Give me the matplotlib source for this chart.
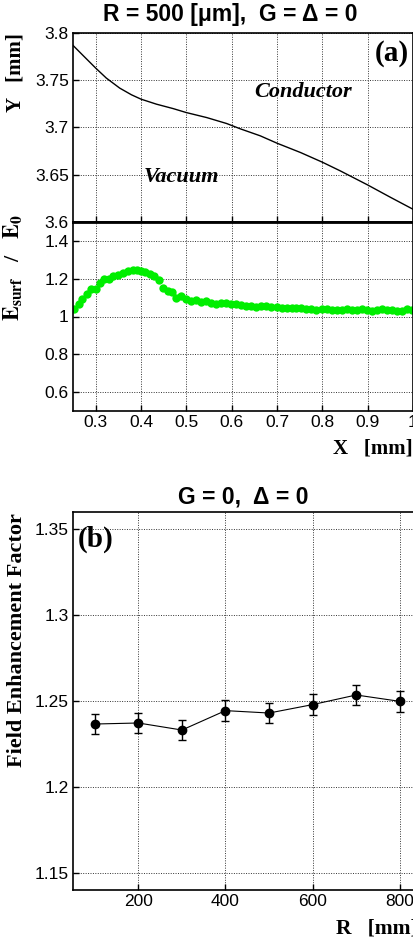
import matplotlib.pyplot as plt

plt.rcParams['font.family'] = ['Liberation Sans', 'DejaVu Sans']
plt.rcParams['mathtext.fontset'] = 'stix'

# (a) upper: boundary profile Y(X)
prof_x = [0.25, 0.272, 0.3, 0.3235, 0.353, 0.379, 0.4, 0.434, 0.471, 0.5, 0.545,
          0.589, 0.619, 0.663, 0.7, 0.752, 0.8, 0.84, 0.9, 0.95, 1.0]
prof_y = [3.7869, 3.7763, 3.7629, 3.7523, 3.7417, 3.7346, 3.730, 3.7247, 3.720,
          3.7158, 3.7105, 3.7042, 3.6986, 3.6912, 3.6834, 3.6735, 3.6633, 3.654,
          3.6392, 3.6262, 3.6135]

# (a) lower: surface field ratio
field_x = [0.253, 0.2625, 0.27, 0.281, 0.29, 0.301, 0.309, 0.318, 0.329, 0.338,
           0.349, 0.36, 0.371, 0.382, 0.392, 0.4, 0.409, 0.419, 0.428, 0.439,
           0.448, 0.459, 0.468, 0.477, 0.489, 0.5, 0.511, 0.522, 0.533, 0.544,
           0.555, 0.566, 0.577, 0.588, 0.599, 0.61, 0.621, 0.632, 0.643, 0.654,
           0.665, 0.676, 0.687, 0.699, 0.71, 0.721, 0.732, 0.743, 0.754, 0.765,
           0.776, 0.787, 0.799, 0.81, 0.821, 0.832, 0.843, 0.854, 0.865, 0.876,
           0.887, 0.898, 0.909, 0.92, 0.931, 0.942, 0.953, 0.964, 0.975, 0.986, 0.997]
field_e = [1.042, 1.065, 1.095, 1.121, 1.144, 1.144, 1.179, 1.200, 1.196, 1.214,
           1.221, 1.228, 1.240, 1.246, 1.244, 1.239, 1.237, 1.225, 1.214, 1.193,
           1.149, 1.135, 1.130, 1.100, 1.109, 1.091, 1.082, 1.088, 1.077, 1.082,
           1.074, 1.068, 1.074, 1.070, 1.068, 1.065, 1.060, 1.053, 1.053, 1.051,
           1.053, 1.054, 1.049, 1.049, 1.047, 1.047, 1.046, 1.046, 1.044, 1.042,
           1.042, 1.037, 1.039, 1.039, 1.035, 1.037, 1.033, 1.039, 1.037, 1.035,
           1.042, 1.032, 1.030, 1.033, 1.040, 1.037, 1.032, 1.028, 1.030, 1.039, 1.032]

# (b) field enhancement factor vs R
R = [100, 200, 300, 400, 500, 600, 700, 800]
fef = [1.2366, 1.2372, 1.2331, 1.2444, 1.2430, 1.2479, 1.2535, 1.2498]
fef_err = [0.006, 0.006, 0.006, 0.006, 0.006, 0.006, 0.006, 0.006]

W, H = 414, 939
fig = plt.figure(figsize=(W / 100, H / 100), dpi=100)

def frac(left, top, right, bottom):
    return [left / W, 1 - bottom / H, (right - left) / W, (bottom - top) / H]

grid_kw = dict(color='#333333', linestyle=(0, (1, 1.5)), linewidth=0.7)
serif_b = dict(family='Liberation Serif', weight='bold')

def style(ax):
    ax.tick_params(direction='in', length=4, width=1, labelsize=12.5, pad=3)
    ax.grid(True, **grid_kw)
    for s in ax.spines.values():
        s.set_linewidth(1.2)

ax1 = fig.add_axes(frac(73, 33, 413, 222))
ax2 = fig.add_axes(frac(73, 222, 413, 411), sharex=ax1)
ax3 = fig.add_axes(frac(73, 512, 415, 890))

ax1.plot(prof_x, prof_y, color='black', lw=1)
ax1.set_xlim(0.25, 1.0)
ax1.set_ylim(3.6, 3.8)
ax1.set_yticks([3.6, 3.65, 3.7, 3.75, 3.8])
ax1.set_yticklabels(['3.6', '3.65', '3.7', '3.75', '3.8'])
style(ax1)
ax1.tick_params(labelbottom=False)
ax1.spines['bottom'].set_linewidth(2)
ax1.text(0.757, 3.738, 'Conductor', fontsize=16, style='italic', ha='center', va='center', **serif_b)
ax1.text(0.488, 3.648, 'Vacuum', fontsize=16, style='italic', ha='center', va='center', **serif_b)
ax1.text(0.99, 3.793, '(a)', fontsize=21, ha='right', va='top', **serif_b)
ax1.set_ylabel('Y   [mm]', fontsize=15, **serif_b)
ax1.yaxis.set_label_coords(-0.14, 0.79)

ax2.plot(field_x, field_e, 'o', color='#00ee00', markersize=6, markeredgewidth=0)
ax2.set_ylim(0.5, 1.5)
ax2.set_yticks([0.6, 0.8, 1.0, 1.2, 1.4])
ax2.set_yticklabels(['0.6', '0.8', '1', '1.2', '1.4'])
ax2.set_xticks([0.3, 0.4, 0.5, 0.6, 0.7, 0.8, 0.9, 1.0])
ax2.set_xticklabels(['0.3', '0.4', '0.5', '0.6', '0.7', '0.8', '0.9', '1'])
style(ax2)
ax2.spines['top'].set_linewidth(2)
ax2.set_ylabel(r'$\mathbf{E_{surf}}$   /   $\mathbf{E_0}$', fontsize=16, **serif_b)
ax2.yaxis.set_label_coords(-0.14, 0.76)
ax2.set_xlabel('X   [mm]', fontsize=15, ha='right', x=1.0, labelpad=6, **serif_b)

ax3.errorbar(R, fef, yerr=fef_err, fmt='-o', color='black', lw=0.8,
             markersize=6, capsize=3, elinewidth=1, capthick=1)
ax3.set_xlim(50, 835)
ax3.set_ylim(1.14, 1.36)
ax3.set_xticks([200, 400, 600, 800])
ax3.set_yticks([1.15, 1.2, 1.25, 1.3, 1.35])
ax3.set_yticklabels(['1.15', '1.2', '1.25', '1.3', '1.35'])
style(ax3)
ax3.text(0.015, 0.965, '(b)', fontsize=21, ha='left', va='top', transform=ax3.transAxes, **serif_b)
ax3.set_ylabel('Field Enhancement Factor', fontsize=16, **serif_b)
ax3.yaxis.set_label_coords(-0.135, 0.66)
fig.text(336 / W, 1 - 928 / H, 'R   [mm]', fontsize=15.5, ha='left', va='center', **serif_b)

fig.text(230 / W, 1 - 15 / H, 'R = 500 [μm],  G = Δ = 0', fontsize=16.5,
         weight='bold', ha='center', va='center')
fig.text(243 / W, 1 - 497 / H, 'G = 0,  Δ = 0', fontsize=16.5,
         weight='bold', ha='center', va='center')

fig.savefig('out.png', dpi=100)
